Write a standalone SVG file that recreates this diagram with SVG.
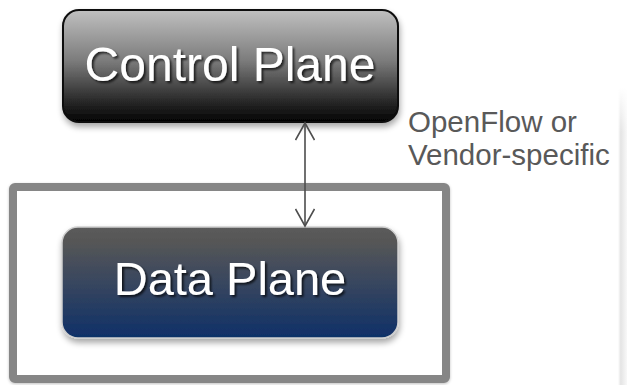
<svg xmlns="http://www.w3.org/2000/svg" width="627" height="385" viewBox="0 0 627 385">
<defs>
<linearGradient id="gCtrl" x1="0" y1="0" x2="0" y2="1">
<stop offset="0" stop-color="#c0c0c0"/>
<stop offset="0.45" stop-color="#7c7c7c"/>
<stop offset="0.8" stop-color="#2c2c2c"/>
<stop offset="1" stop-color="#020202"/>
</linearGradient>
<linearGradient id="gData" x1="0" y1="0" x2="0" y2="1">
<stop offset="0" stop-color="#5b5b5b"/>
<stop offset="0.12" stop-color="#575757"/>
<stop offset="1" stop-color="#0f3068"/>
</linearGradient>
<linearGradient id="gEdge" x1="0" y1="0" x2="1" y2="0">
<stop offset="0" stop-color="#ffffff"/>
<stop offset="0.3" stop-color="#e4e4e4"/>
<stop offset="1" stop-color="#f8f8f8"/>
</linearGradient>
<linearGradient id="gEdgeV" x1="0" y1="0" x2="0" y2="1">
<stop offset="0" stop-color="#fff" stop-opacity="1"/>
<stop offset="0.15" stop-color="#fff" stop-opacity="0"/>
<stop offset="1" stop-color="#fff" stop-opacity="0"/>
</linearGradient>
<filter id="shadow" x="-10%" y="-10%" width="120%" height="130%">
<feGaussianBlur in="SourceAlpha" stdDeviation="3"/>
<feOffset dx="1" dy="4" result="b"/>
<feComponentTransfer><feFuncA type="linear" slope="0.35"/></feComponentTransfer>
<feMerge><feMergeNode/><feMergeNode in="SourceGraphic"/></feMerge>
</filter>
<filter id="tshadow" x="-10%" y="-10%" width="120%" height="130%">
<feGaussianBlur in="SourceAlpha" stdDeviation="1.2"/>
<feOffset dx="1.5" dy="2" result="b"/>
<feComponentTransfer><feFuncA type="linear" slope="0.7"/></feComponentTransfer>
<feMerge><feMergeNode/><feMergeNode in="SourceGraphic"/></feMerge>
</filter>
<filter id="fshadow" x="-5%" y="-5%" width="110%" height="110%">
<feGaussianBlur in="SourceAlpha" stdDeviation="1.5"/>
<feOffset dx="0" dy="1"/>
<feComponentTransfer><feFuncA type="linear" slope="0.25"/></feComponentTransfer>
<feMerge><feMergeNode/><feMergeNode in="SourceGraphic"/></feMerge>
</filter>
<marker id="head" viewBox="0 0 20 20" refX="18" refY="10" markerWidth="20" markerHeight="20" markerUnits="userSpaceOnUse" orient="auto-start-reverse">
<path d="M1,0.5 L18,10 L1,19.5" fill="none" stroke="#4d4d4d" stroke-width="1.6"/>
</marker>
</defs>
<style>
.node-text{font-family:"Liberation Sans",Arial,sans-serif;fill:#ffffff;text-anchor:middle}
.label{font-family:"Liberation Sans",Arial,sans-serif;fill:#595959;font-size:29.5px}
</style>
<rect x="0" y="0" width="627" height="385" fill="#ffffff"/>
<rect x="618" y="88" width="9" height="297" fill="url(#gEdge)"/>
<rect x="618" y="88" width="9" height="297" fill="url(#gEdgeV)"/>
<g id="frame">
<rect x="13" y="187" width="433" height="192" rx="2" fill="#ffffff" stroke="#868686" stroke-width="8" filter="url(#fshadow)"/>
</g>
<g id="control-plane">
<rect x="63" y="10" width="335" height="112" rx="16" fill="url(#gCtrl)" stroke="#0a0a0a" stroke-width="2" filter="url(#shadow)"/>
<text class="node-text" x="230" y="81" font-size="48" filter="url(#tshadow)">Control Plane</text>
</g>
<g id="data-plane">
<rect x="62" y="227" width="336" height="111" rx="16" fill="url(#gData)" stroke="#cfcfcf" stroke-width="1.5" filter="url(#shadow)"/>
<text class="node-text" x="230" y="295" font-size="47" filter="url(#tshadow)">Data Plane</text>
</g>
<g id="connectors">
<line x1="305" y1="123" x2="305" y2="226" stroke="#4d4d4d" stroke-width="1.6" marker-start="url(#head)" marker-end="url(#head)"/>
</g>
<g id="label">
<text class="label" x="408" y="132">OpenFlow or</text>
<text class="label" x="408" y="165">Vendor-specific</text>
</g>
</svg>
